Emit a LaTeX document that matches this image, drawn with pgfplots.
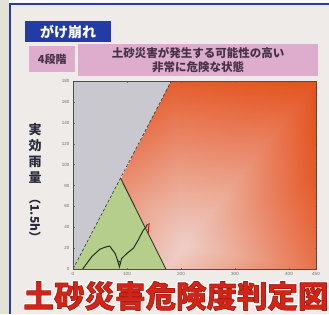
\documentclass[border=0pt]{standalone}
\usepackage{pgfplots}
\pgfplotsset{compat=1.18}
\usepackage{fontspec}
\setmainfont{Liberation Sans}
\newfontfamily\cjk{Noto Sans CJK JP}
\definecolor{bg}{RGB}{238,235,233}
\definecolor{strip}{RGB}{228,226,212}
\definecolor{frameblue}{RGB}{40,60,160}
\definecolor{hdrblue}{RGB}{35,60,165}
\definecolor{pinkbox}{RGB}{222,172,205}
\definecolor{pinktext}{RGB}{70,50,70}
\definecolor{zgray}{RGB}{200,200,206}
\definecolor{zgreen}{RGB}{182,206,140}
\definecolor{titlered}{RGB}{210,38,22}
\definecolor{labeltext}{RGB}{40,40,60}
\definecolor{ticktext}{RGB}{110,110,110}
\definecolor{rainline}{RGB}{30,50,30}
\begin{document}
\begin{tikzpicture}
\useasboundingbox (0,0) rectangle (329pt,-314pt);
\fill[bg] (0,0) rectangle (329pt,-314pt);
\fill[strip] (0,0) rectangle (9pt,-314pt);
\fill[white!96!gray] (9pt,0) rectangle (329pt,-3pt);
\draw[frameblue, line width=1.6pt] (10pt,-314pt) -- (10pt,-4pt) -- (329pt,-4pt);
% header boxes
\node[fill=hdrblue, minimum width=86pt, minimum height=21pt, inner sep=0pt, anchor=north west, text=white, font=\cjk\bfseries\fontsize{14}{14}\selectfont] at (25pt,-21pt) {がけ崩れ};
\node[fill=pinkbox, minimum width=46pt, minimum height=26pt, inner sep=0pt, anchor=north west, text=pinktext, font=\cjk\bfseries\fontsize{11}{11}\selectfont] at (29pt,-46pt) {4段階};
\node[fill=pinkbox, minimum width=240pt, minimum height=32pt, inner sep=0pt, anchor=north west, text=pinktext, align=center, font=\cjk\bfseries\fontsize{11.5}{14}\selectfont] at (78pt,-44pt) {土砂災害が発生する可能性の高い\\非常に危険な状態};
% y label
\foreach \c/\yy in {実/130,効/146,雨/162,量/178}{
  \node[text=labeltext, font=\cjk\bfseries\fontsize{13}{13}\selectfont, inner sep=0pt] at (35pt,-\yy pt) {\c};
}
\node[text=labeltext, rotate=-90, font=\cjk\bfseries\fontsize{12}{12}\selectfont, inner sep=0pt] at (35pt,-218pt) {（1.5h）};
\begin{axis}[
  at={(73pt,-269pt)}, anchor=south west,
  scale only axis, width=243pt, height=188pt,
  xmin=0, xmax=450, ymin=0, ymax=180,
  xtick={0,100,200,300,400,450},
  ytick={0,20,40,60,80,100,120,140,160,180},
  tick label style={font=\fontsize{4.5}{4.5}\selectfont, text=ticktext},
  /pgf/number format/assume math mode=true,
  major tick length=1.5pt,
  tick style={ticktext, line width=0.3pt},
  axis line style={draw=black!70, line width=0.7pt},
  axis on top,
  clip=true,
  colormap={zone}{rgb255(0pt)=(238,206,200) rgb255(30pt)=(236,172,152) rgb255(60pt)=(233,132,100) rgb255(85pt)=(230,100,55) rgb255(100pt)=(224,84,30)},
  point meta min=0, point meta max=1,
]
\addplot[draw=none, fill=zgray] coordinates {(0,0) (182,180) (0,180)} -- cycle;
\addplot[patch, shader=interp, point meta=explicit] coordinates {
  (205,22) [0]    (172,0) [0.05]  (88,87) [0.55]
  (205,22) [0]    (88,87) [0.55]  (182,180) [0.9]
  (205,22) [0]    (182,180) [0.9] (310,180) [0.95]
  (205,22) [0]    (310,180) [0.95] (450,180) [1]
  (205,22) [0]    (450,180) [1]   (450,90) [0.95]
  (205,22) [0]    (450,90) [0.95] (450,0) [0.75]
  (205,22) [0]    (450,0) [0.75]  (310,0) [0.4]
  (205,22) [0]    (310,0) [0.4]   (172,0) [0.05]
};
\addplot[draw=none, fill=zgreen] coordinates {(0,0) (88,87) (172,0)} -- cycle;
\addplot[black!80, densely dashed, line width=0.6pt] coordinates {(0,0) (182,180)};
\addplot[black!85, line width=0.8pt] coordinates {(88,87) (172,0)};
\addplot[rainline, line width=1pt] coordinates {(18,0) (25,5) (35,12) (50,19) (60,21) (68,22) (72,19) (78,15) (82,9) (86,2) (88,6) (90,10) (94,12) (100,15) (112,20) (121,28) (130,37) (135,40) (138,43)};
\addplot[rainline, line width=0.8pt] coordinates {(84,8) (88,6)};
\addplot[red!80!black, line width=1pt] coordinates {(139,34) (141,44)};
\end{axis}
% big title: white halo by stroked text, then red fill
\node[inner sep=0pt, font=\cjk\bfseries\fontsize{30.5}{30.5}\selectfont] at (176pt,-296pt) {\special{pdf:literal direct q 1 1 1 rg 1 1 1 RG 3.4 w 1 j 2 Tr}土砂災害危険度判定図\special{pdf:literal direct Q}};
\node[inner sep=0pt, font=\cjk\bfseries\fontsize{30.5}{30.5}\selectfont] at (176pt,-296pt) {\special{pdf:literal direct q 0.82 0.15 0.09 rg 0.70 0.10 0.06 RG 0.7 w 1 j 2 Tr}土砂災害危険度判定図\special{pdf:literal direct Q}};
\end{tikzpicture}
\end{document}
